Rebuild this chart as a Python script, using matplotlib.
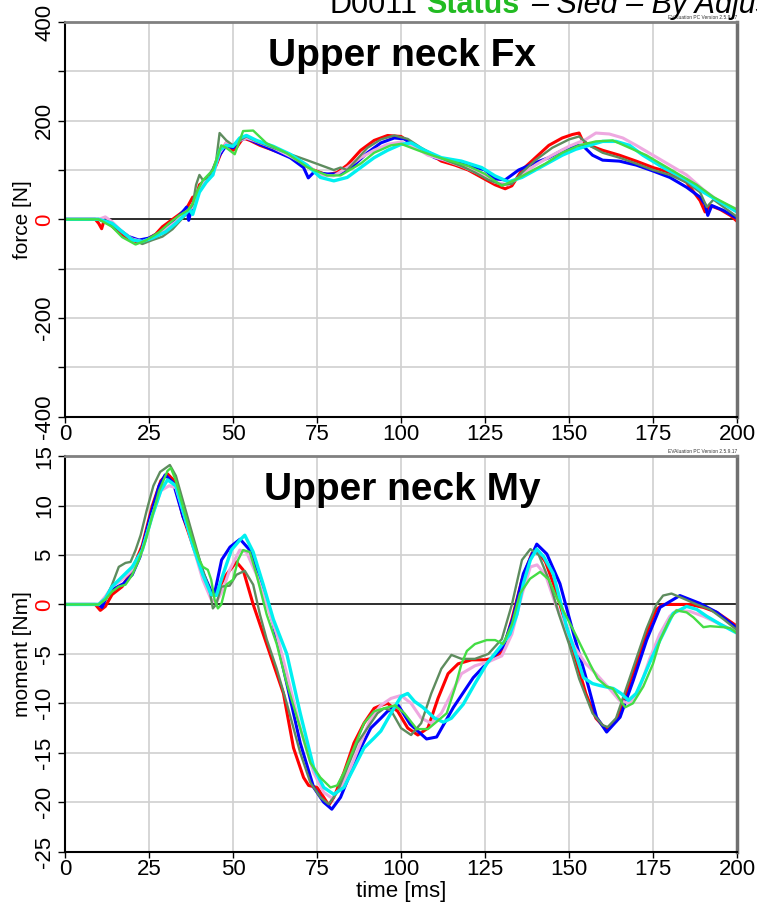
import numpy as np
import matplotlib
matplotlib.use('Agg')
from matplotlib import pyplot as plt
from matplotlib.ticker import MultipleLocator

plt.rcParams['font.family'] = ['Liberation Sans', 'DejaVu Sans']

# Upper neck Fx [N] per test, (time ms, force N)
fx_red_t = [0, 9, 10, 10.9, 11.5, 13, 15, 18, 21, 24, 27, 29, 31, 33, 35, 36, 38, 39, 40, 41, 43, 45, 47, 48, 50, 51, 53, 55, 58, 62, 66, 70, 74, 78, 81, 84, 88, 92, 96, 100, 104, 108, 112, 116, 120, 124, 128, 131, 133, 136, 140, 144, 148, 151, 153, 154, 156, 160, 165, 170, 175, 180, 185, 189, 190.5, 192, 195, 198, 200]
fx_red = [0, 0, -8, -19, -5, -8, -20, -35, -45, -42, -30, -15, -5, 5, 15, 20, 45, 45, 70, 75, 85, 110, 145, 155, 140, 145, 165, 160, 150, 140, 130, 115, 100, 90, 95, 110, 140, 160, 170, 168, 150, 135, 118, 110, 100, 85, 70, 62, 68, 100, 125, 150, 165, 172, 175, 160, 150, 140, 130, 118, 105, 95, 75, 38, 15, 28, 20, 8, -4]

fx_blue_t = [0, 10, 13, 16, 19, 22, 25, 28, 31, 33, 35, 36.2, 36.8, 38, 40, 42, 44, 46, 48, 50, 52, 54, 57, 62, 67, 71, 72.4, 74, 78, 82, 86, 90, 94, 98, 101, 105, 110, 115, 120, 125, 128, 131, 135, 140, 144, 148, 152, 154, 157, 160, 165, 170, 175, 180, 185, 189, 190.5, 191.3, 192.5, 196, 200]
fx_blue = [0, 0, -5, -20, -35, -42, -38, -28, -12, 0, 15, 25, -2, 30, 60, 80, 100, 130, 150, 145, 160, 165, 155, 140, 125, 105, 84, 95, 92, 92, 110, 135, 155, 165, 163, 145, 125, 118, 110, 100, 82, 80, 100, 115, 125, 140, 150, 150, 130, 120, 118, 110, 98, 85, 65, 45, 30, 8, 28, 18, 2]

fx_dgreen_t = [0, 10, 13, 16, 20, 23, 26, 29, 32, 34, 36, 38, 39, 40, 41, 43, 45, 46, 48, 50, 52, 54, 57, 62, 67, 72, 76, 80, 82, 84, 86, 90, 94, 98, 102, 106, 110, 114, 118, 122, 126, 130, 133, 136, 140, 145, 150, 153, 156, 160, 165, 170, 175, 180, 185, 189, 191, 193, 196, 200]
fx_dgreen = [0, 0, -5, -20, -40, -50, -42, -35, -20, -5, 10, 30, 70, 90, 80, 85, 120, 175, 160, 150, 160, 168, 158, 145, 132, 120, 110, 100, 105, 100, 115, 145, 162, 170, 163, 145, 130, 118, 108, 95, 80, 70, 72, 95, 120, 145, 162, 168, 150, 135, 125, 113, 100, 90, 75, 55, 25, 40, 25, 5]

fx_pink_t = [0, 10, 12, 14, 17, 20, 23, 26, 30, 33, 35, 38, 40, 42, 44, 46, 48, 50, 52, 54, 57, 62, 67, 72, 76, 80, 84, 88, 92, 96, 100, 104, 108, 113, 118, 124, 128, 132, 136, 140, 145, 150, 155, 158, 162, 166, 170, 175, 180, 185, 190, 195, 200]
fx_pink = [0, 0, 5, -5, -25, -40, -45, -38, -20, -5, 10, 25, 60, 80, 90, 135, 155, 150, 160, 165, 158, 145, 128, 110, 90, 88, 105, 125, 140, 152, 157, 147, 130, 120, 108, 90, 75, 70, 90, 110, 130, 148, 162, 175, 173, 165, 150, 130, 110, 90, 60, 35, 20]

fx_cyan_t = [0, 10, 14, 17, 20, 23, 26, 30, 33, 35, 37, 38, 40, 42, 44, 46, 48, 50, 52, 54, 57, 62, 67, 72, 76, 80, 84, 88, 92, 96, 100, 103, 107, 112, 118, 124, 128, 132, 136, 140, 144, 148, 152, 156, 160, 164, 168, 172, 178, 185, 190, 195, 200]
fx_cyan = [0, 0, -8, -25, -42, -45, -38, -25, -8, 5, 20, 10, 55, 75, 90, 140, 150, 148, 165, 170, 160, 148, 132, 110, 85, 78, 85, 105, 125, 140, 152, 155, 140, 125, 118, 105, 88, 76, 85, 100, 115, 130, 142, 150, 158, 158, 150, 130, 105, 80, 55, 35, 15]

fx_lgreen_t = [0, 10, 14, 17, 21, 24, 28, 31, 34, 36.5, 38, 39.5, 41, 44, 46.5, 48, 50.5, 53, 56, 60, 66, 72, 78, 82, 88, 92, 97, 100, 105, 110, 115, 120, 125, 130, 134, 138, 143, 148, 153, 158, 163, 168, 173, 178, 183, 188, 193, 200]
fx_lgreen = [0, 0, -15, -36, -51, -43, -26, -8, 8, 18, 32, 59, 79, 100, 150, 145, 132, 179, 180, 154, 134, 106, 89, 89, 113, 135, 150, 153, 140, 128, 118, 108, 92, 68, 80, 95, 113, 135, 150, 158, 160, 145, 130, 110, 90, 70, 45, 20]

# Upper neck My [Nm] per test, (time ms, moment Nm)
my_red_t = [0, 9, 10.5, 12, 14, 17, 20, 23, 26, 28.5, 30.5, 32.5, 35, 38, 41, 43.5, 45.5, 48, 51, 53, 56, 59, 62, 65, 68, 71, 72.5, 75, 77, 78.5, 80, 83, 86, 89, 92, 94, 96, 99, 102, 105, 108, 111, 114, 117, 121, 125, 128, 130.4, 133, 136, 139, 140.5, 143, 146, 149, 152, 155, 158, 161, 164, 167, 170, 173, 176, 178, 181, 186, 190, 194, 197, 200]
my_red = [0, 0, -0.6, -0.2, 1, 1.8, 3.5, 6, 10, 12.5, 13.2, 12.5, 9, 6, 3, 0.9, 1.5, 3, 4.3, 3.5, 0, -3, -6, -9, -14.5, -17.5, -18.3, -18.5, -19.5, -20.3, -19.5, -17, -14, -12, -10.5, -10.2, -10, -10.8, -12.5, -13.2, -12.5, -9.5, -7, -6, -5.6, -5.6, -5.4, -4.6, -1.5, 2.5, 5.2, 5.5, 4.3, 1.5, -2, -5.5, -9, -11.5, -12.6, -11.8, -9, -6, -3, -0.5, 0, 0, 0, -0.3, -0.8, -1.5, -2.2]

my_blue_t = [0, 10, 11, 12.4, 14, 17.4, 20, 22.3, 25.3, 28, 29.8, 32.2, 35.2, 38.2, 41.2, 43.6, 44.5, 46.6, 49.1, 52.1, 55, 58.5, 62, 66, 70, 74, 77, 79.4, 82, 85, 88, 91, 94, 96, 99.2, 102.7, 107.6, 110.6, 115.6, 121.5, 126.5, 130.4, 133.4, 136.4, 140.4, 143.4, 147.3, 151.3, 155.3, 158.2, 161.2, 165.2, 169.1, 173.1, 177.1, 183, 189, 194, 200]
my_blue = [0, 0, -0.3, 0.8, 1.5, 2.1, 3, 4.8, 8.8, 12, 13.1, 12.3, 8.8, 6.3, 3.1, 1.25, 1.1, 4.5, 5.8, 6.6, 5.5, 2.1, -2, -8, -14, -18.5, -20, -20.7, -19.5, -17, -14.5, -12.5, -11.5, -10.8, -10.2, -12.1, -13.6, -13.4, -10.4, -7.4, -5.6, -4.3, -1.3, 3.1, 6.1, 5.1, 2.1, -2.9, -7.7, -11.4, -12.9, -11.4, -7.7, -3.6, -0.3, 0.9, 0.1, -0.8, -2.4]

my_dgreen_t = [0, 10, 12, 14, 16, 18, 19.5, 21, 22.5, 24.3, 26.3, 28.3, 31.2, 33, 35.5, 38, 40.5, 43, 44, 45, 46.5, 49, 51, 53.5, 56, 58, 60, 63, 66, 70, 73, 76, 78.5, 81, 84, 87, 90, 93, 95, 97, 100, 103, 106, 109, 112, 115, 118, 122, 126, 130, 133, 136, 138.5, 141, 144, 147, 150, 153, 157, 160, 161.5, 164, 167, 170, 173, 176, 178, 180.5, 184, 188, 192, 196, 200]
my_dgreen = [0, 0, 0.5, 2, 3.8, 4.2, 4.3, 5.5, 7, 9.5, 12, 13.4, 14.1, 13, 10, 7, 4, 1.5, -0.4, 0, 1.8, 1.9, 3, 3.4, 2, -1, -3.5, -6.5, -10, -15, -18, -19.5, -20.2, -19, -16.5, -14, -12.5, -11, -10.5, -10.7, -12.5, -13.2, -12, -9, -6.5, -5.1, -5.5, -5.5, -5, -3.5, 0, 4.5, 5.6, 5, 2.5, -1, -4, -7.5, -11, -12.2, -12.4, -11.5, -8.5, -5.5, -2.5, 0, 0.9, 1.1, 0.6, 0, -0.5, -1.5, -2.6]

my_pink_t = [0, 10, 12, 14, 17, 20, 23, 26, 28.5, 31, 33, 35.5, 38, 41, 43.5, 45, 47, 49, 52, 54, 57, 60, 63, 66, 70, 74, 77, 79.5, 82, 85, 88, 91, 94, 97, 100, 103, 106, 109, 112, 115, 118, 122, 126, 130, 133, 136, 138.5, 140.5, 143, 146, 149, 152, 155, 158, 162, 165, 168, 171, 174, 177, 180, 182, 186, 190, 195, 200]
my_pink = [0, 0, 0.8, 1.8, 2.5, 3.5, 5.5, 9, 11.5, 12, 11.8, 9, 6, 2.5, 0.5, 0.2, 1.5, 3.5, 5.5, 5.3, 3, 0, -3, -7, -12.5, -17, -19, -19.6, -18.5, -16.5, -14, -11.5, -10.2, -9.5, -9.2, -10, -11.5, -12, -11, -9, -7, -6.2, -5.8, -5.2, -3, 1, 3.8, 4, 3, 0, -2.5, -4.5, -6, -7, -8.5, -9.7, -10, -8.5, -5.5, -3, -1.2, -0.6, -0.7, -1.2, -2, -2.8]

my_cyan_t = [0, 10, 12, 14, 17, 20, 23, 26, 28.5, 30.5, 33, 35.5, 38, 41, 43.5, 45, 47, 49.5, 52, 53.5, 56, 59, 62, 66, 70, 74, 77, 80, 83, 86, 89, 92, 94, 97, 100, 102, 104, 106.5, 110, 112.6, 115, 118.5, 122, 125.5, 129.5, 132.4, 134.5, 136.4, 138.5, 140.4, 142.5, 145.3, 147.3, 149.3, 152, 154.3, 157, 159.2, 163.2, 165.5, 167.7, 170, 172.1, 174.5, 177.1, 181, 185, 188, 191, 195, 200]
my_cyan = [0, 0, 0.6, 1.8, 2.8, 3.8, 5.5, 9, 11.5, 12.6, 12, 9, 6, 3, 1, 0.9, 3, 5.5, 6.5, 7, 5.3, 2, -1.5, -5, -11, -16.5, -18.5, -19.2, -18.5, -16.5, -14.5, -13.5, -12.8, -11, -9.3, -9, -9.8, -10.4, -11.5, -11.9, -11.5, -10.1, -8, -6, -4.3, -3, -1, 2.1, 4.5, 5.6, 4.8, 3.1, 0.5, -2.3, -5, -7.4, -8, -8.2, -8.5, -9, -9.7, -9, -7.4, -5.5, -3.6, -0.9, -0.2, -0.5, -1.2, -2, -2.9]

my_lgreen_t = [0, 10, 12, 14, 16, 18, 20, 22, 24, 26, 28, 30.5, 31.5, 33, 35, 37.5, 40, 41, 42.5, 43.5, 44.5, 45.5, 46.5, 48, 50, 51.5, 53, 55, 57, 60, 63, 66, 70, 73, 76, 79, 81, 83, 86, 89, 92, 95, 98.2, 101, 104.7, 108, 113.6, 116, 118, 119.6, 122, 125.5, 128, 130.4, 133, 135.4, 138.4, 141.4, 144, 146.3, 151.3, 156.2, 158.5, 161.2, 163, 166.7, 169, 172.1, 175, 177.1, 180, 182, 185, 187, 190, 192, 196, 198, 200]
my_lgreen = [0, 0, 0.5, 1.3, 1.8, 2, 3, 4.5, 6.5, 9, 11.5, 13.5, 13.8, 12.5, 10, 7, 4.5, 3.8, 3.5, 2.5, 0.5, -0.4, 0, 2, 2.5, 4.5, 5.5, 5.3, 3, -1, -4, -8, -12.5, -16, -17.5, -18.5, -18.3, -17, -14.5, -12, -10.8, -10.5, -10.2, -11, -12.6, -12.6, -11, -8.5, -6, -4.7, -4, -3.6, -3.6, -4, -2, 1.1, 2.6, 3.3, 2.5, 0.7, -2.6, -6, -7.5, -8.3, -8.5, -10.4, -10, -8.3, -6, -3.6, -1.5, -0.6, -0.8, -1.3, -2.3, -2.2, -2.3, -2.4, -2.9]

fx_series = [
    (fx_red_t, fx_red, '#ff0000', 2.2),
    (fx_blue_t, fx_blue, '#0000ff', 2.2),
    (fx_pink_t, fx_pink, '#eea8e0', 2.2),
    (fx_dgreen_t, fx_dgreen, '#5e8c5e', 1.7),
    (fx_cyan_t, fx_cyan, '#00f0f0', 2.4),
    (fx_lgreen_t, fx_lgreen, '#44dd44', 1.7),
]
my_series = [
    (my_red_t, my_red, '#ff0000', 2.2),
    (my_blue_t, my_blue, '#0000ff', 2.2),
    (my_pink_t, my_pink, '#eea8e0', 2.2),
    (my_dgreen_t, my_dgreen, '#5e8c5e', 1.7),
    (my_cyan_t, my_cyan, '#00f0f0', 2.4),
    (my_lgreen_t, my_lgreen, '#44dd44', 1.7),
]

fig = plt.figure(figsize=(7.57, 9.06), dpi=100)
ax_fx = fig.add_axes([0.0859, 0.5401, 0.8877, 0.4356])
ax_my = fig.add_axes([0.0859, 0.0599, 0.8877, 0.4367])


def style_axes(ax, ylim, major, minor, ylabel, title):
    ax.set_xlim(0, 200)
    ax.set_ylim(*ylim)
    ax.set_xticks(np.arange(0, 201, 25))
    ax.xaxis.set_major_formatter(plt.FuncFormatter(lambda v, p: '%d' % v))
    yt = np.arange(ylim[0], ylim[1] + 1, major)
    ax.set_yticks(yt, ['%d' % v for v in yt])
    ax.yaxis.set_minor_locator(MultipleLocator(minor))
    ax.grid(True, which='both', color='#d0d0d0', linewidth=1.2)
    ax.set_axisbelow(True)
    ax.axhline(0, color='black', linewidth=1.1, zorder=1.5)
    ax.tick_params(axis='x', labelsize=16, pad=1, length=4, width=1)
    ax.tick_params(axis='y', which='both', length=5, width=1)
    ax.tick_params(axis='y', labelsize=16, pad=2)
    for lab in ax.get_yticklabels():
        lab.set_rotation(90)
        lab.set_va('center')
        if lab.get_text() == '0':
            lab.set_color('red')
    ax.spines['left'].set_linewidth(1.5)
    ax.spines['bottom'].set_linewidth(1.5)
    ax.spines['top'].set_color('#808080')
    ax.spines['top'].set_linewidth(2)
    ax.spines['right'].set_color('#707070')
    ax.spines['right'].set_linewidth(2.5)
    ax.set_ylabel(ylabel, fontsize=15, labelpad=2)
    ax.text(0.502, 0.915, title, transform=ax.transAxes, ha='center', va='center',
            fontsize=28, fontweight='bold')
    ax.text(1.0, 1.006, 'EVAluation PC Version 2.5.9.17', transform=ax.transAxes,
            ha='right', va='bottom', fontsize=3.5, color='#333333')


for t, v, c, lw in fx_series:
    ax_fx.plot(t, v, color=c, linewidth=lw, solid_joinstyle='round')
for t, v, c, lw in my_series:
    ax_my.plot(t, v, color=c, linewidth=lw, solid_joinstyle='round')

style_axes(ax_fx, (-400, 400), 200, 100, 'force [N]', 'Upper neck Fx')
style_axes(ax_my, (-25, 15), 5, 5, 'moment [Nm]', 'Upper neck My')
ax_my.set_xlabel('time [ms]', fontsize=16, labelpad=1)

# page header, clipped by the top of the sheet; pieces are chained one after another
hy = 1 - 13 / 906
h1 = fig.text(330 / 757, hy, 'D0011', fontsize=22, va='baseline')
h2 = ax_fx.annotate('Status', xy=(1, 0), xycoords=h1, xytext=(6, 0),
                    textcoords='offset points', va='bottom', ha='left',
                    fontsize=22, fontweight='bold', color='#22bb22', annotation_clip=False)
ax_fx.annotate('\u2013 Sled \u2013 By Adjustment', xy=(1, 0), xycoords=h2, xytext=(8, 0),
               textcoords='offset points', va='bottom', ha='left',
               fontsize=22, style='italic', annotation_clip=False)

fig.savefig('out.png', dpi=100)
